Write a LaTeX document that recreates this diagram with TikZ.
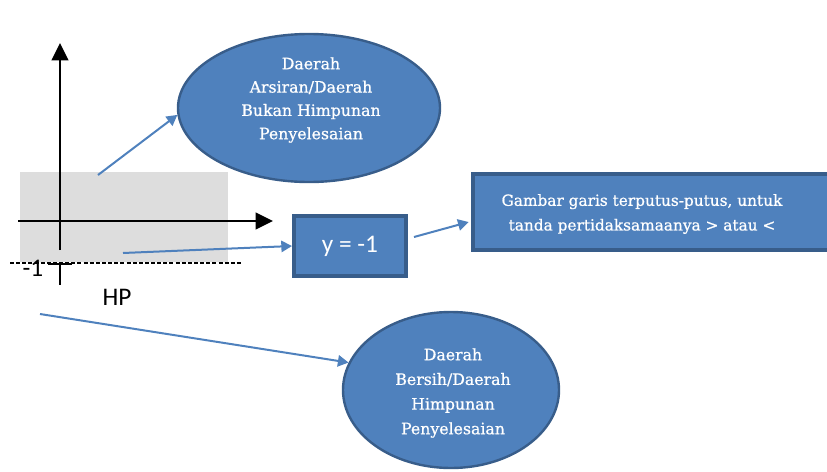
\documentclass[tikz,border=0pt]{standalone}
\usepackage{fontspec}
\usetikzlibrary{arrows.meta,shapes.geometric,calc}
\newfontfamily\cambriaish[FakeBold=0.7]{DejaVu Serif}
\newfontfamily\calibriish{Carlito}
\definecolor{accent}{HTML}{4F81BD}
\definecolor{accentdark}{HTML}{385D8A}
\definecolor{regiongray}{HTML}{DDDDDD}
\tikzset{
  blob/.style={ellipse, fill=accent, draw=accentdark, line width=1.8pt, inner sep=0pt,
               text=white, align=center, font=\cambriaish\fontsize{11.8}{17.5}\selectfont},
  panel/.style={rectangle, fill=accent, draw=accentdark, line width=3pt, inner sep=0pt},
  panellabel/.style={text=white, align=center, font=\cambriaish\fontsize{11.5}{18.5}\selectfont},
  pointer/.style={draw=accent, line width=1.5pt, -{Triangle[width=8.5pt,length=8pt]}},
  axis/.style={draw=black, line width=1.7pt, -{Triangle[width=12.5pt,length=13pt]}},
  plainlabel/.style={font=\calibriish\fontsize{19}{21}\selectfont, text=black}
}
\begin{document}
\begin{tikzpicture}[x=0.75pt,y=-0.75pt]
\useasboundingbox (0,0) rectangle (827,471);
\clip (0,0) rectangle (827,471);
% shaded region
\fill[regiongray] (20,172) rectangle (228,262);
% axes
\coordinate (ybot) at (60,250);
\coordinate (ytop) at (60,43);
\coordinate (xleft) at (18,221);
\coordinate (xright) at (273,221);
\draw[axis] (ybot) -- (ytop);
\draw[axis] (xleft) -- (xright);
% dashed line y=-1
\coordinate (dl) at (10,263);
\coordinate (dr) at (243,263);
\draw[black, line width=1.1pt, dash pattern=on 3pt off 1.6pt] (dl) -- (dr);
% tick
\coordinate (ta) at (48,264);
\coordinate (tb) at (72,264);
\coordinate (tc) at (60,264);
\coordinate (td) at (60,285);
\draw[black, line width=1.1pt] (ta) -- (tb) (tc) -- (td);
\node[plainlabel] (m1) at (33,268) {-1};
\node[plainlabel] (hp) at (117,297) {HP};
% ellipses
\node[blob, minimum width=196.5pt, minimum height=111pt] (e1) at (309,108) {};
\node[blob, draw=none, fill=none] (e1t) at (311,100)
  {Daerah\\Arsiran/Daerah\\Bukan Himpunan\\Penyelesaian};
\node[blob, minimum width=162pt, minimum height=117pt] (e2) at (451,390) {};
\node[blob, draw=none, fill=none, font=\cambriaish\fontsize{11.8}{18.5}\selectfont] (e2t) at (453,393)
  {Daerah\\Bersih/Daerah\\Himpunan\\Penyelesaian};
% boxes
\node[panel, minimum width=84pt, minimum height=45pt] (b1) at (350,246) {};
\node[text=white, font=\calibriish\fontsize{19}{21}\selectfont] (b1t) at (350,246) {y = -1};
\node[panel, minimum width=272pt, minimum height=57pt] (b2) at (654,212) {};
\node[panellabel] (b2t) at (642,214) {Gambar garis terputus-putus, untuk\\tanda pertidaksamaanya > atau <};
% pointers
\coordinate (s1) at (98,175);
\coordinate (s2) at (123,253);
\coordinate (s3) at (414,237);
\coordinate (s4) at (40,314);
\draw[pointer] (s1) -- (e1.183);
\draw[pointer] (s2) -- (b1.west);
\draw[pointer] (s3) -- ($(b2.west)+(-2,10)$);
\draw[pointer] (s4) -- (e2.165);
\end{tikzpicture}
\end{document}
